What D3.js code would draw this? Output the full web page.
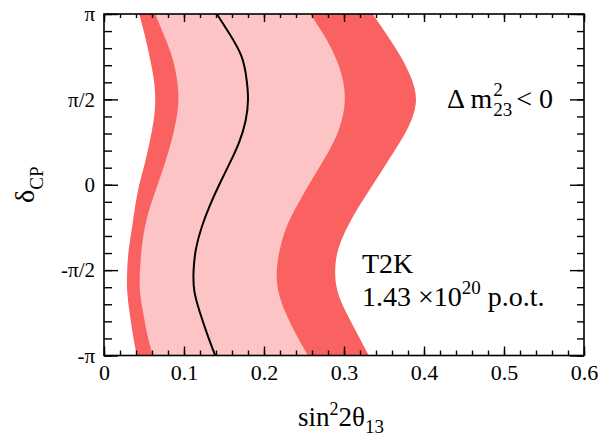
<!DOCTYPE html>
<html><head><meta charset="utf-8">
<script src="https://cdn.jsdelivr.net/npm/d3@7"></script>
<style>
body{margin:0;background:#fff}
svg{display:block}
</style>
</head><body>
<svg id="c" width="599" height="438"></svg>
<script>
// δCP in units of π (top to bottom)
const deltaOverPi = [1,0.875,0.75,0.625,0.5,0.375,0.25,0.125,0,-0.125,-0.25,-0.375,-0.5,-0.625,-0.75,-0.875,-1];
// 90% CL region boundaries (dark)
const outerLeft  = [0.044,0.051,0.057,0.062,0.064,0.062,0.057,0.051,0.044,0.039,0.035,0.031,0.029,0.029,0.032,0.036,0.041];
const outerRight = [0.336,0.354,0.371,0.384,0.390,0.384,0.370,0.353,0.336,0.319,0.304,0.293,0.289,0.292,0.303,0.317,0.331];
// 68% CL region boundaries (light)
const innerLeft  = [0.064,0.075,0.085,0.091,0.093,0.090,0.084,0.076,0.067,0.058,0.051,0.047,0.045,0.045,0.049,0.054,0.061];
const innerRight = [0.258,0.275,0.289,0.298,0.301,0.297,0.287,0.272,0.256,0.241,0.228,0.220,0.216,0.218,0.227,0.240,0.255];
// best fit
const bestFit    = [0.141,0.158,0.172,0.178,0.180,0.177,0.169,0.157,0.144,0.132,0.122,0.115,0.112,0.113,0.120,0.129,0.139];

const xTickValues = [0,0.1,0.2,0.3,0.4,0.5,0.6];
const xTickLabels = ["0","0.1","0.2","0.3","0.4","0.5","0.6"];
const yTickValues = [-Math.PI,-Math.PI/2,0,Math.PI/2,Math.PI];
const yTickLabels = ["-π","-π/2","0","π/2","π"];

const SERIF='"Liberation Serif","DejaVu Serif","Times New Roman",serif';
const W=599,H=438;
const m={l:104,r:15,t:14,b:82.5};
const iw=W-m.l-m.r, ih=H-m.t-m.b;
const svg=d3.select("#c");
const g=svg.append("g").attr("transform",`translate(${m.l},${m.t})`);
const x=d3.scaleLinear().domain([0,0.6]).range([0,iw]);
const y=d3.scaleLinear().domain([-Math.PI,Math.PI]).range([ih,0]);

svg.append("defs").append("clipPath").attr("id","clip").append("rect").attr("width",iw).attr("height",ih);

const rows=deltaOverPi.map((d,i)=>({d:d*Math.PI,ol:outerLeft[i],or:outerRight[i],il:innerLeft[i],ir:innerRight[i],b:bestFit[i]}));
const curve=d3.curveNatural;
const plot=g.append("g").attr("clip-path","url(#clip)");
plot.append("path").datum(rows)
  .attr("d",d3.area().y(r=>y(r.d)).x0(r=>x(r.ol)).x1(r=>x(r.or)).curve(curve))
  .attr("fill","#fa6262");
plot.append("path").datum(rows)
  .attr("d",d3.area().y(r=>y(r.d)).x0(r=>x(r.il)).x1(r=>x(r.ir)).curve(curve))
  .attr("fill","#fdc4c6");
plot.append("path").datum(rows)
  .attr("d",d3.line().y(r=>y(r.d)).x(r=>x(r.b)).curve(curve))
  .attr("fill","none").attr("stroke","#000").attr("stroke-width",2);

// frame
g.append("rect").attr("width",iw).attr("height",ih).attr("fill","none").attr("stroke","#000").attr("stroke-width",1.6);

const xMinor=d3.range(0,31).map(k=>k*0.02);
const yMinor=d3.range(-10,11).map(k=>k*Math.PI/10);
function clean(sel){sel.select(".domain").remove();sel.selectAll("line").attr("stroke","#000").attr("stroke-width",1.4);}

g.append("g").attr("transform",`translate(0,${ih})`)
  .call(d3.axisBottom(x).tickValues(xMinor).tickSize(-5).tickFormat(""))
  .call(clean);
const xb=g.append("g").attr("transform",`translate(0,${ih})`)
  .call(d3.axisBottom(x).tickValues(xTickValues).tickSize(-9).tickPadding(9).tickFormat((d,i)=>xTickLabels[i]))
  .call(clean);
xb.selectAll("text").style("font-size","22px").style("font-family",SERIF).attr("fill","#000");
g.append("g").call(d3.axisTop(x).tickValues(xMinor).tickSize(-4).tickFormat("")).call(clean);
g.append("g").call(d3.axisTop(x).tickValues(xTickValues).tickSize(-8).tickFormat("")).call(clean);

g.append("g").call(d3.axisLeft(y).tickValues(yMinor).tickSize(-8).tickFormat("")).call(clean);
const yl=g.append("g").call(d3.axisLeft(y).tickValues(yTickValues).tickSize(-14).tickPadding(9).tickFormat((d,i)=>yTickLabels[i])).call(clean);
yl.selectAll("text").style("font-size","21px").style("font-family",SERIF).attr("fill","#000");
g.append("g").attr("transform",`translate(${iw},0)`).call(d3.axisRight(y).tickValues(yMinor).tickSize(-7).tickFormat("")).call(clean);
g.append("g").attr("transform",`translate(${iw},0)`).call(d3.axisRight(y).tickValues(yTickValues).tickSize(-14).tickFormat("")).call(clean);

// axis titles
const xt=svg.append("text").attr("x",298).attr("y",426).style("font-family",SERIF).style("font-size","27px");
xt.append("tspan").text("sin");
xt.append("tspan").style("font-size","18px").attr("dy",-11).text("2");
xt.append("tspan").attr("dy",11).text("2θ");
xt.append("tspan").style("font-size","19px").attr("dy",7).text("13");

const yt=svg.append("text").attr("transform","translate(34,203) rotate(-90)").style("font-family",SERIF).style("font-size","28px");
yt.append("tspan").text("δ");
yt.append("tspan").style("font-size","19px").attr("dy",9).text("CP");

// annotations
const a1=svg.append("g").style("font-family",SERIF).style("font-size","28px");
const t1=a1.append("text").attr("x",447).attr("y",108).text("Δ m");
const w1=t1.node().getComputedTextLength();
a1.append("text").attr("x",447+w1+1).attr("y",96).style("font-size","19px").text("2");
const s1=a1.append("text").attr("x",447+w1+1).attr("y",116).style("font-size","19px").text("23");
const w2=s1.node().getComputedTextLength();
a1.append("text").attr("x",447+w1+1+w2+4).attr("y",108).text("< 0");

svg.append("text").attr("x",362).attr("y",273).style("font-family",SERIF).style("font-size","28px").text("T2K");
const t3=svg.append("text").attr("x",362).attr("y",306).style("font-family",SERIF).style("font-size","28px");
t3.append("tspan").text("1.43 ×10");
t3.append("tspan").style("font-size","19px").attr("dy",-12).text("20");
t3.append("tspan").attr("dy",12).text(" p.o.t.");
</script>
</body></html>
